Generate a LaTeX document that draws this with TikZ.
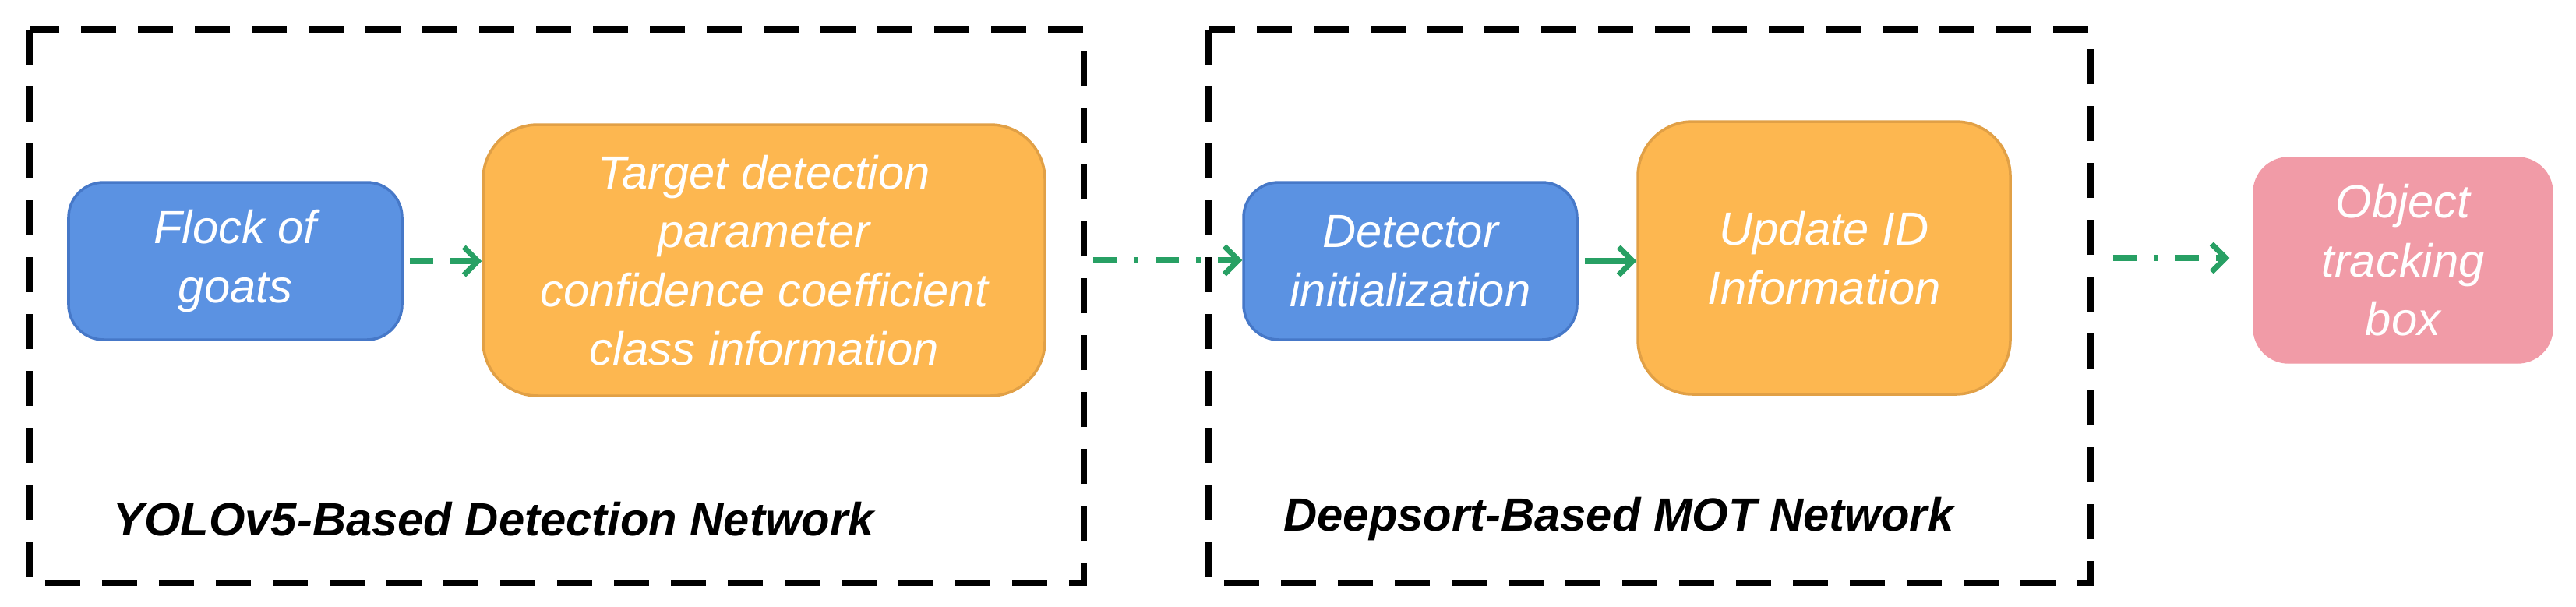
\documentclass[tikz,border=0pt]{standalone}
\usepackage{fontspec}
\setmainfont{Liberation Sans}
\usetikzlibrary{arrows.meta}
\definecolor{bblue}{RGB}{91,146,226}
\definecolor{bblueD}{RGB}{70,120,200}
\definecolor{orng}{RGB}{253,183,80}
\definecolor{orngD}{RGB}{225,160,70}
\definecolor{pnk}{RGB}{241,155,167}
\definecolor{grn}{RGB}{40,160,100}
\tikzset{
 box/.style={rounded corners=0.45cm, align=center, text=white, font=\itshape\fontsize{17}{21.5}\selectfont, inner sep=0pt},
 blue/.style={box, fill=bblue, draw=bblueD, line width=1pt},
 org/.style={box, fill=orng, draw=orngD, line width=1pt, rounded corners=0.7cm},
 pink/.style={box, fill=pnk, draw=pnk},
 grp/.style={draw=black, line width=2.2pt, dash pattern=on 0.45cm off 0.28cm},
 arr/.style={draw=grn, line width=2.2pt, -{Straight Barb[length=0.18cm,width=0.36cm,line width=2pt]}},
 glabel/.style={font=\bfseries\itshape\fontsize{17}{19}\selectfont, anchor=west}
}
\begin{document}
\begin{tikzpicture}
\useasboundingbox (0,0) rectangle (33.06,7.78);
\draw[grp] (0.38,7.40) rectangle (13.91,0.30);
\draw[grp] (15.51,7.40) rectangle (26.83,0.30);
\node[blue, minimum width=4.28cm, minimum height=2.02cm] (flock) at (3.02,4.43) {Flock of\\goats};
\node[org, minimum width=7.21cm, minimum height=3.48cm] (tgt) at (9.805,4.44) {Target detection\\parameter\\confidence coefficient\\class information};
\node[blue, minimum width=4.28cm, minimum height=2.02cm] (det) at (18.10,4.43) {Detector\\initialization};
\node[org, minimum width=4.78cm, minimum height=3.50cm] (upd) at (23.41,4.47) {Update ID\\Information};
\node[pink, minimum width=3.84cm, minimum height=2.64cm] (obj) at (30.84,4.44) {Object\\tracking\\box};
\node[glabel] (l1) at (1.33,1.12) {YOLOv5-Based Detection Network};
\node[glabel] (l2) at (16.35,1.12) {Deepsort-Based MOT Network};
\draw[arr, dash pattern=on 0.3cm off 0.22cm] (flock.east) ++(0.08,0) coordinate (a1) (a1) -- (tgt.west |- a1);
\draw[arr, dash pattern=on 0.3cm off 0.22cm on 0.06cm off 0.22cm] (tgt.east) ++(0.6,0) coordinate (a2) (a2) -- (det.west |- a2);
\draw[arr] (det.east) ++(0.08,0) coordinate (a3) (a3) -- (upd.west |- a3);
\draw[arr, dash pattern=on 0.3cm off 0.22cm on 0.06cm off 0.22cm] (upd.east) ++(1.3,0) coordinate (a4) (a4) -- ([xshift=-0.3cm]obj.west |- a4);
\end{tikzpicture}
\end{document}
